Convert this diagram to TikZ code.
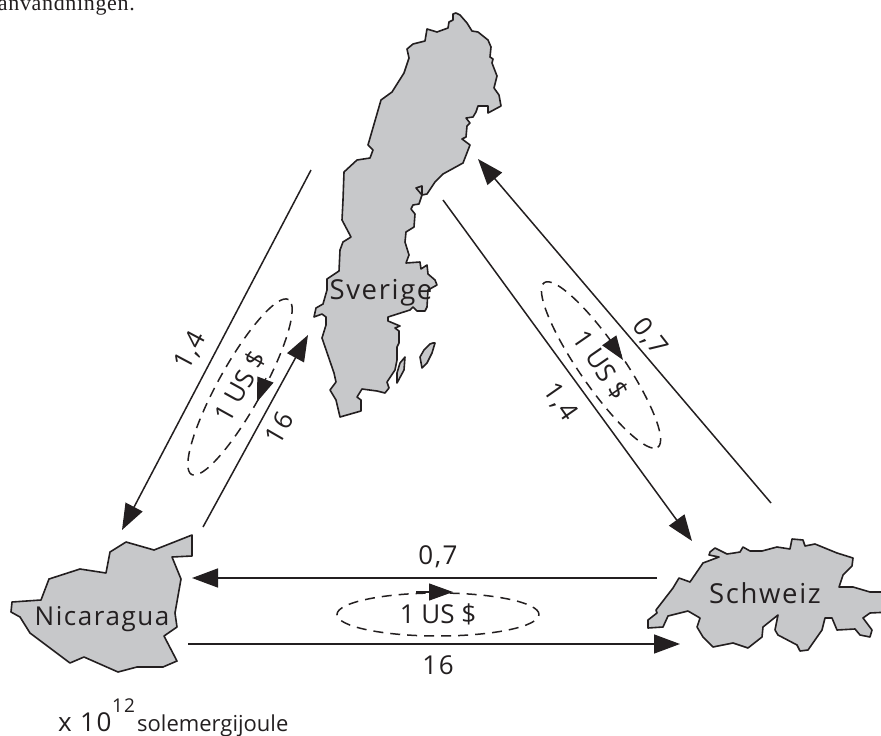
\documentclass[tikz,border=0pt]{standalone}
\usepackage{fontspec}
\usepackage{xcolor}
\usepackage{tikz}
\usetikzlibrary{arrows.meta,shapes.geometric}
\setmainfont{Open Sans}
\newfontfamily\spaced[LetterSpace=6]{Open Sans}
\newfontfamily\bodyserif[LetterSpace=3]{Liberation Serif}
\definecolor{ink}{RGB}{35,31,32}
\definecolor{land}{RGB}{199,200,202}
\tikzset{
  country/.style={fill=land, draw=ink, line width=1.6pt, line join=round},
  flow/.style={draw=ink, line width=1.5pt, -{Triangle[length=26pt,width=19pt]}},
  moneyflow/.style={draw=ink, line width=1.2pt, -{Triangle[length=24pt,width=17pt]}},
  moneyring/.style={ellipse, draw=ink, line width=1.5pt, dash pattern=on 10pt off 7pt, inner sep=0pt,
    minimum width=200pt, minimum height=44pt, text=ink, font=\fontsize{26}{26}\selectfont},
  amount/.style={text=ink, inner sep=0pt, font=\spaced\fontsize{26}{26}\selectfont},
  place/.style={text=ink, inner sep=0pt, font=\spaced\fontsize{27.5}{27.5}\selectfont}
}
\begin{document}
\begin{tikzpicture}[x=1pt, y=-1pt]
        \useasboundingbox (0, 0) rectangle (881, 736);

        \node[anchor=base east, inner sep=0pt, text=ink, font=\bodyserif\fontsize{22}{22}\selectfont] (lastline) at (135, 10) {användningen.};

        \draw[country] (456,13) -- (460,15) -- (467,23) -- (472,31) -- (478,32) -- (488,40) -- (491,47) -- (490,57) -- (493,59) -- (492,63) -- (497,76) -- (494,88) -- (499,95) -- (501,106) -- (488,113) -- (488,106) -- (478,106) -- (476,112) -- (473,117) -- (466,118) -- (470,123) -- (467,126) -- (466,137) -- (462,139) -- (470,145) -- (463,163) -- (443,174) -- (435,182) -- (427,194) -- (422,195) -- (416,188) -- (422,186) -- (422,195) -- (419,204) -- (413,205) -- (411,209) -- (415,214) -- (414,227) -- (406,232) -- (405,242) -- (409,255) -- (406,263) -- (420,262) -- (421,269) -- (427,265) -- (428,274) -- (435,280) -- (437,285) -- (428,290) -- (427,307) -- (425,311) -- (417,311) -- (413,307) -- (410,310) -- (388,317) -- (388,321) -- (400,326) -- (395,328) -- (399,331) -- (399,343) -- (397,347) -- (397,360) -- (395,370) -- (387,382) -- (389,388) -- (385,393) -- (377,391) -- (362,389) -- (357,397) -- (361,400) -- (361,411) -- (340,417) -- (336,400) -- (330,390) -- (336,382) -- (334,373) -- (322,338) -- (326,325) -- (326,317) -- (322,314) -- (314,317) -- (316,308) -- (323,304) -- (327,290) -- (327,279) -- (339,271) -- (340,250) -- (343,242) -- (351,237) -- (342,220) -- (343,200) -- (344,172) -- (357,160) -- (370,158) -- (373,150) -- (368,145) -- (381,100) -- (392,92) -- (404,73) -- (409,58) -- (407,49) -- (413,44) -- (425,41) -- (427,29) -- (437,32) -- (448,28) -- (449,22) -- (453,20) -- (453,14) -- cycle;
        \draw[country] (433,343) -- (435,343) -- (432,353) -- (427,363) -- (422,368) -- (420,357) -- (424,350) -- (430,344) -- cycle;
        \draw[country] (405,357) -- (404,370) -- (397,383) -- (397,373) -- (400,363) -- cycle;
        \draw[country] (192,535) -- (192,556) -- (172,557) -- (181,579) -- (175,613) -- (177,627) -- (164,636) -- (177,661) -- (163,667) -- (137,667) -- (118,672) -- (84,657) -- (70,663) -- (30,633) -- (20,617) -- (11,612) -- (12,602) -- (41,600) -- (49,579) -- (80,569) -- (106,573) -- (110,552) -- (126,542) -- (154,550) -- cycle;
        \draw[country] (719,557) -- (709,555) -- (710,552) -- (715,548) -- (727,554) -- (734,553) -- (740,552) -- (743,547) -- (750,551) -- (762,551) -- (777,547) -- (790,549) -- (792,539) -- (803,540) -- (805,546) -- (815,544) -- (837,553) -- (853,558) -- (852,566) -- (843,575) -- (839,587) -- (853,587) -- (870,592) -- (890,592) -- (890,612) -- (870,613) -- (863,618) -- (872,630) -- (870,637) -- (860,635) -- (855,629) -- (837,630) -- (832,618) -- (825,618) -- (822,630) -- (808,650) -- (800,651) -- (797,645) -- (778,635) -- (775,630) -- (778,615) -- (763,627) -- (762,637) -- (748,648) -- (733,643) -- (713,647) -- (703,637) -- (697,627) -- (700,618) -- (688,611) -- (668,616) -- (663,627) -- (648,628) -- (648,620) -- (657,613) -- (656,610) -- (673,588) -- (679,578) -- (690,582) -- (703,563) -- cycle;

        \node[place] (sverige) at (381, 293) {Sverige};
        \node[place, font=\spaced\fontsize{26}{26}\selectfont] (nicaragua) at (102, 619) {Nicaragua};
        \node[place] (schweiz) at (765, 593) {Schweiz};

        \coordinate (sveOutW) at (311, 170);
        \coordinate (nicInN) at (122, 530);
        \coordinate (nicOutN) at (203, 527);
        \coordinate (sveInW) at (308, 335);
        \coordinate (sveOutE) at (443, 200);
        \coordinate (schInN) at (692, 541);
        \coordinate (schOutN) at (771, 503);
        \coordinate (sveInE) at (478, 159);
        \coordinate (schOutW) at (657, 578);
        \coordinate (nicInE) at (192, 578);
        \coordinate (nicOutE) at (188, 644);
        \coordinate (schInW) at (680, 644);

        \draw[flow] (sveOutW) -- (nicInN);
        \draw[flow] (nicOutN) -- (sveInW);
        \draw[flow] (sveOutE) -- (schInN);
        \draw[flow] (schOutN) -- (sveInE);
        \draw[flow] (schOutW) -- (nicInE);
        \draw[flow] (nicOutE) -- (schInW);

        \node[moneyring, rotate=61] (dollarWest) at (240, 387) {1 US \$};
        \node[moneyring, rotate=-55.4] (dollarEast) at (601, 365) {1 US \$};
        \node[moneyring, minimum width=202pt, minimum height=43pt] (dollarSouth) at (438, 614.5) {1 US \$};

        \coordinate (westFrom) at (266, 378);
        \coordinate (westTo) at (257, 402);
        \coordinate (eastFrom) at (609, 340);
        \coordinate (eastTo) at (623, 360);
        \coordinate (southFrom) at (416, 592);
        \coordinate (southTo) at (453, 592);
        \draw[moneyflow] (westFrom) -- (westTo);
        \draw[moneyflow] (eastFrom) -- (eastTo);
        \draw[moneyflow] (southFrom) -- (southTo);

        \node[amount, rotate=62] (fourWest) at (191, 351) {1,4};
        \node[amount, rotate=60] (sixteenWest) at (279, 428) {16};
        \node[amount, rotate=-52] (sevenEast) at (650, 337) {0,7};
        \node[amount, rotate=-55] (fourEast) at (560, 402) {1,4};
        \node[amount] (sevenSouth) at (438, 557) {0,7};
        \node[amount] (sixteenSouth) at (438, 665) {16};

        \node[anchor=base west, amount] (times) at (58, 731) {x 10};
        \node[anchor=base west, text=ink, inner sep=0pt, font=\spaced\fontsize{19}{19}\selectfont] (power) at (112, 712) {12};
        \node[anchor=base west, text=ink, inner sep=0pt, font=\fontsize{22}{22}\selectfont] (unit) at (137, 731) {solemergijoule};
    \end{tikzpicture}
\end{document}
